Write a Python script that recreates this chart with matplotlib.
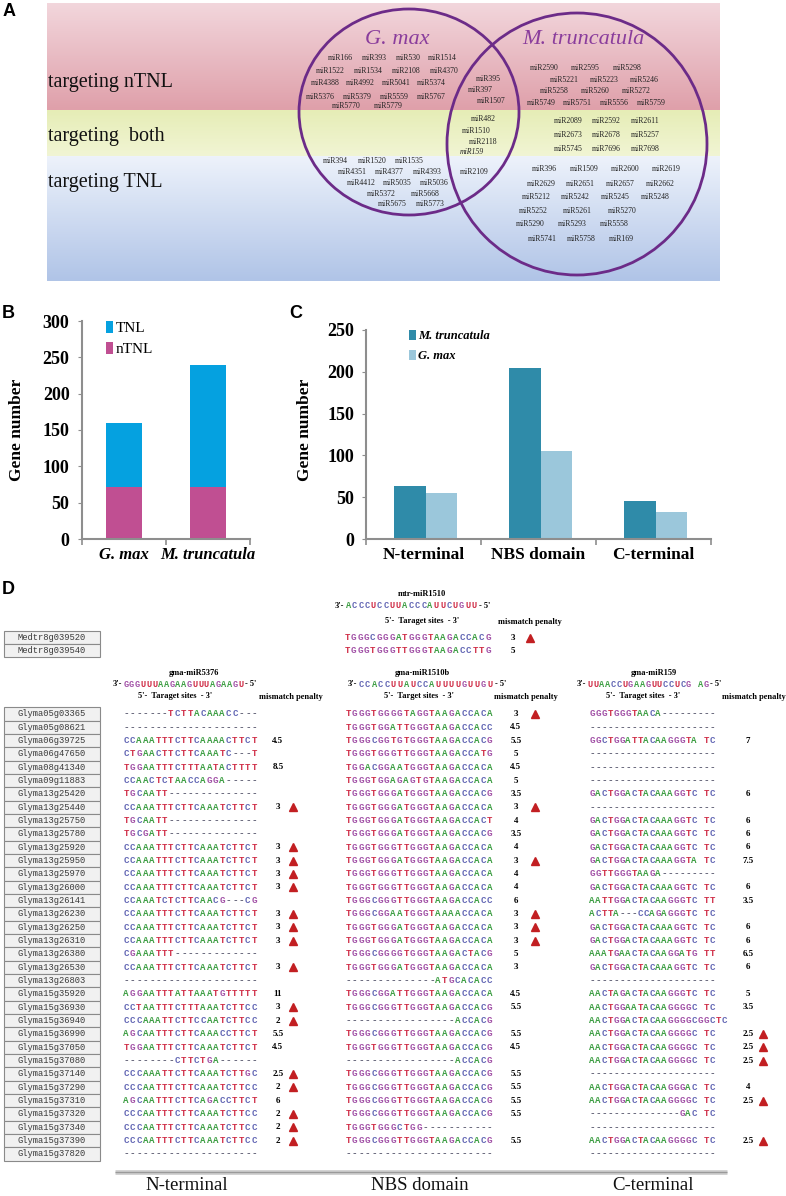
import numpy as np
import matplotlib
matplotlib.use("Agg")
import matplotlib.pyplot as plt
from matplotlib.patches import Rectangle, Ellipse

W, H = 786, 1196
SERIF = "Liberation Serif"
MONO = "Liberation Mono"
SANS = "Liberation Sans"

# ---------------------------------------------------------------
#  Panel A : miRNA families in the Venn diagram
# ---------------------------------------------------------------
band_labels = ["targeting nTNL", "targeting  both", "targeting TNL"]

gma_ntnl_rows = [["miR166", "miR393", "miR530", "miR1514"],
                 ["miR1522", "miR1534", "miR2108", "miR4370"],
                 ["miR4388", "miR4992", "miR5041", "miR5374"],
                 ["miR5376", "miR5379", "miR5559", "miR5767"],
                 ["miR5770", "miR5779"]]
gma_tnl_rows = [["miR394", "miR1520", "miR1535"],
                ["miR4351", "miR4377", "miR4393"],
                ["miR4412", "miR5035", "miR5036"],
                ["miR5372", "miR5668"],
                ["miR5675", "miR5773"]]
shared_mirs = ["miR395", "miR397", "miR1507", "miR482", "miR1510", "miR2118", "miR159", "miR2109"]
mtr_ntnl_rows = [["miR2590", "miR2595", "miR5298"],
                 ["miR5221", "miR5223", "miR5246"],
                 ["miR5258", "miR5260", "miR5272"],
                 ["miR5749", "miR5751", "miR5556", "miR5759"]]
mtr_both_rows = [["miR2089", "miR2592", "miR2611"],
                 ["miR2673", "miR2678", "miR5257"],
                 ["miR5745", "miR7696", "miR7698"]]
mtr_tnl_rows = [["miR396", "miR1509", "miR2600", "miR2619"],
                ["miR2629", "miR2651", "miR2657", "miR2662"],
                ["miR5212", "miR5242", "miR5245", "miR5248"],
                ["miR5252", "miR5261", "miR5270"],
                ["miR5290", "miR5293", "miR5558"],
                ["miR5741", "miR5758", "miR169"]]

# ---------------------------------------------------------------
#  Panel B / C : gene counts
# ---------------------------------------------------------------
species = ["G. max", "M. truncatula"]
ntnl_counts = [72, 71]
tnl_counts = [87, 169]

domains = ["N-terminal", "NBS domain", "C-terminal"]
mtr_domain_counts = [63, 205, 45]
gma_domain_counts = [55, 105, 32]

# ---------------------------------------------------------------
#  Panel D : target sites
# ---------------------------------------------------------------
mtr_mirna = ("mtr-miR1510", "ACCCUCCUUACCCAUUCUGUU")
mtr_genes = ["Medtr8g039520", "Medtr8g039540"]
mtr_sites = ["TGGGCGGGATGGGTAAGACCACG", "TGGGTGGGTTGGGTAAGACCTTG"]
mtr_penalty = ["3", "5"]
mtr_flag = [True, False]

gma_mirnas = [("gma-miR5376", "GGGUUUAAGAAGUUUAGAAGU"),
              ("gma-miR1510b", "CCACCUUAUCCAUUUUGUUGU"),
              ("gma-miR159", "UUAACCUGAAGUUCCUCG AG")]

gma_genes = ["Glyma05g03365", "Glyma05g08621", "Glyma06g39725", "Glyma06g47650",
             "Glyma08g41340", "Glyma09g11883", "Glyma13g25420", "Glyma13g25440",
             "Glyma13g25750", "Glyma13g25780", "Glyma13g25920", "Glyma13g25950",
             "Glyma13g25970", "Glyma13g26000", "Glyma13g26141", "Glyma13g26230",
             "Glyma13g26250", "Glyma13g26310", "Glyma13g26380", "Glyma13g26530",
             "Glyma13g26803", "Glyma15g35920", "Glyma15g36930", "Glyma15g36940",
             "Glyma15g36990", "Glyma15g37050", "Glyma15g37080", "Glyma15g37140",
             "Glyma15g37290", "Glyma15g37310", "Glyma15g37320", "Glyma15g37340",
             "Glyma15g37390", "Glyma15g37820"]

nterm_sites = ["-------TCTTACAAACC---", "---------------------", "CCAAATTTCTTCAAAACTTCT",
               "CTGAACTTCTTCAAATC---T", "TGGAATTTCTTTAATACTTTT", "CCAACTCTAACCAGGA-----",
               "TGCAATT--------------", "CCAAATTTCTTCAAATCTTCT", "TGCAATT--------------",
               "TGCGATT--------------", "CCAAATTTCTTCAAATCTTCT", "CCAAATTTCTTCAAATCTTCT",
               "CCAAATTTCTTCAAATCTTCT", "CCAAATTTCTTCAAATCTTCT", "CCAAATCTCTTCAACG---CG",
               "CCAAATTTCTTCAAATCTTCT", "CCAAATTTCTTCAAATCTTCT", "CCAAATTTCTTCAAATCTTCT",
               "CGAAATTT-------------", "CCAAATTTCTTCAAATCTTCT", "---------------------",
               "AGGAATTTATTAAATGTTTTT", "CCTAATTTCTTTAAATCTTCC", "CCCAAATTCTTCCAATCTTCC",
               "AGCAATTTCTTCAAACCTTCT", "TGGAATTTCTTCAAATCTTCT", "--------CTTCTGA------",
               "CCCAAATTCTTCAAATCTTGC", "CCCAATTTCTTCAAATCTTCC", "AGCAATTTCTTCAGACCTTCT",
               "CCCAATTTCTTCAAATCTTCC", "CCCAATTTCTTCAAATCTTCC", "CCCAATTTCTTCAAATCTTCC",
               "---------------------"]
nterm_penalty = ["", "", "4.5", "", "8.5", "", "", "3", "", "", "3", "3", "3", "3", "",
                 "3", "3", "3", "", "3", "", "11", "3", "2", "5.5", "4.5", "", "2.5",
                 "2", "6", "2", "2", "2", ""]
nterm_flag = [0, 0, 0, 0, 0, 0, 0, 1, 0, 0, 1, 1, 1, 1, 0, 1, 1, 1, 0, 1, 0, 0, 1, 1,
              0, 0, 0, 1, 1, 0, 1, 1, 1, 0]

nbs_sites = ["TGGGTGGGGTAGGTAAGACCACA", "TGGGTGGATTGGGTAAGACCACC", "TGGGCGGTGTGGGTAAGACCACG",
             "TGGGTGGGTTGGGTAAGACCATG", "TGGACGGAATGGGTAAGACCACA", "TGGGTGGAGAGTGTAAGACCACA",
             "TGGGTGGGATGGGTAAGACCACG", "TGGGTGGGATGGGTAAGACCACA", "TGGGTGGGATGGGTAAGACCACT",
             "TGGGTGGGATGGGTAAGACCACG", "TGGGTGGGTTGGGTAAGACCACA", "TGGGTGGGATGGGTAAGACCACA",
             "TGGGTGGGTTGGGTAAGACCACA", "TGGGTGGGTTGGGTAAGACCACA", "TGGGCGGGTTGGGTAAGACCACC",
             "TGGGCGGAATGGGTAAAACCACA", "TGGGTGGGATGGGTAAGACCACA", "TGGGTGGGATGGGTAAGACCACA",
             "TGGGCGGGGTGGGTAAGACTACG", "TGGGTGGGATGGGTAAGACCACA", "--------------ATGCACACC",
             "TGGGCGGATTGGGTAAGACCACA", "TGGGCGGGTTGGGTAAGACCACG", "-----------------ACCACG",
             "TGGGCGGGTTGGGTAAGACCACG", "TGGGTGGGTTGGGTAAGACCACG", "-----------------ACCACG",
             "TGGGCGGGTTGGGTAAGACCACG", "TGGGCGGGTTGGGTAAGACCACG", "TGGGCGGGTTGGGTAAGACCACG",
             "TGGGCGGGTTGGGTAAGACCACG", "TGGGTGGGCTGG-----------", "TGGGCGGGTTGGGTAAGACCACG",
             "-----------------------"]
nbs_penalty = ["3", "4.5", "5.5", "5", "4.5", "5", "3.5", "3", "4", "3.5", "4", "3", "4",
               "4", "6", "3", "3", "3", "5", "3", "", "4.5", "5.5", "", "5.5", "4.5", "",
               "5.5", "5.5", "5.5", "5.5", "", "5.5", ""]
nbs_flag = [1, 0, 0, 0, 0, 0, 0, 1, 0, 0, 0, 1, 0, 0, 0, 1, 1, 1, 0, 0, 0, 0, 0, 0,
            0, 0, 0, 0, 0, 0, 0, 0, 0, 0]

cterm_sites = ["GGGTGGGTAACA---------", "---------------------", "GGCTGGATTACAAGGGTA TC",
               "---------------------", "---------------------", "---------------------",
               "GACTGGACTACAAAGGTC TC", "---------------------", "GACTGGACTACAAAGGTC TC",
               "GACTGGACTACAAAGGTC TC", "GACTGGACTACAAAGGTC TC", "GACTGGACTACAAAGGTA TC",
               "GGTTGGGTAAGA---------", "GACTGGACTACAAAGGTC TC", "AATTGGACTACAAGGGTC TT",
               "ACTTA---CCAGAGGGTC TC", "GACTGGACTACAAAGGTC TC", "GACTGGACTACAAAGGTC TC",
               "AAATGAACTACAAGGATG TT", "GACTGGACTACAAAGGTC TC", "---------------------",
               "AACTAGACTACAAGGGTC TC", "AACTGGAATACAAGGGGC TC", "AACTGGACTACAAGGGGCGGCTC",
               "AACTGGACTACAAGGGGC TC", "AACTGGACTACAAGGGGC TC", "AACTGGACTACAAGGGGC TC",
               "---------------------", "AACTGGACTACAAGGGAC TC", "AACTGGACTACAAGGGGC TC",
               "---------------GAC TC", "---------------------", "AACTGGACTACAAGGGGC TC",
               "---------------------"]
cterm_penalty = ["", "", "7", "", "", "", "6", "", "6", "6", "6", "7.5", "", "6", "3.5",
                 "", "6", "6", "6.5", "6", "", "5", "3.5", "", "2.5", "2.5", "2.5", "",
                 "4", "2.5", "", "", "2.5", ""]
cterm_flag = [0] * 24 + [1, 1, 1, 0, 0, 1, 0, 0, 1, 0]

NT_COLORS = {"A": "#3f9f45", "C": "#6266b4", "G": "#a150a6", "T": "#d02f48",
             "U": "#d02f48", "-": "#5a5a70"}

fig = plt.figure(figsize=(W / 100, H / 100), dpi=100)
base = fig.add_axes([0, 0, 1, 1])
base.set_xlim(0, W)
base.set_ylim(H, 0)
base.axis("off")


def gradient(ax, x0, x1, y0, y1, c_top, c_bot):
    top = np.array(matplotlib.colors.to_rgb(c_top))
    bot = np.array(matplotlib.colors.to_rgb(c_bot))
    t = np.linspace(0, 1, 64)[:, None, None]
    img = top * (1 - t) + bot * t
    ax.imshow(img, extent=[x0, x1, y1, y0], origin="upper", aspect="auto", zorder=0)


# ---- panel A --------------------------------------------------
gradient(base, 47, 720, 3, 110, "#f2d6dc", "#dfa0aa")
gradient(base, 47, 720, 110, 156, "#e6edb6", "#f1f5d4")
gradient(base, 47, 720, 156, 281, "#edf2fb", "#b0c4e7")
base.set_xlim(0, W)
base.set_ylim(H, 0)

for lab, y in zip(band_labels, [82, 136, 182]):
    base.text(48, y, lab, fontsize=14.5, family=SERIF, va="center", ha="left", color="#111")

base.add_patch(Ellipse((409, 112), 220, 206, fill=False, ec="#6c2b88", lw=2.0, zorder=3))
base.add_patch(Ellipse((577, 144), 260, 262, fill=False, ec="#6c2b88", lw=2.0, zorder=3))
base.text(397, 40, "G. max", fontsize=16, family=SERIF, style="italic", color="#8a3d9c",
          ha="center", va="center")
base.text(583, 40, "M. truncatula", fontsize=16, family=SERIF, style="italic", color="#8a3d9c",
          ha="center", va="center")


def mir_rows(rows, layout):
    for names, (y, x_first, step) in zip(rows, layout):
        for k, name in enumerate(names):
            base.text(x_first + k * step, y, name, fontsize=5.6, family=SERIF,
                      ha="center", va="center", color="#222")


mir_rows(gma_ntnl_rows, [(58, 340, 34), (71, 330, 38), (83, 325, 35.5), (97, 320, 37), (106, 346, 42)])
mir_rows(gma_tnl_rows, [(161, 335, 37), (172, 352, 37.5), (183, 361, 36.5), (194, 381, 44), (204, 392, 38)])
mir_rows(mtr_ntnl_rows, [(68, 544, 41.5), (80, 564, 40), (91, 554, 41), (103, 541, 36.7)])
mir_rows(mtr_both_rows, [(121, 568, 38.5), (135, 568, 38.5), (149, 568, 38.5)])
mir_rows(mtr_tnl_rows, [(169, 544, 40.7), (184, 541, 39.7), (197, 536, 39.7), (211, 533, 44.5),
                        (224, 530, 42), (239, 542, 39.5)])
shared_pos = [(488, 79), (480, 90), (491, 101), (483, 119), (476, 131), (483, 142), (472, 152), (474, 172)]
for name, (x, y) in zip(shared_mirs, shared_pos):
    base.text(x, y, name, fontsize=5.6, family=SERIF, ha="center", va="center", color="#222",
              style="italic" if name == "miR159" else "normal")

# ---- panel letters --------------------------------------------
for lab, x, y in [("A", 3, 12), ("B", 2, 313), ("C", 289, 313), ("D", 2, 590)]:
    base.text(x, y, lab, fontsize=13, family=SANS, fontweight="bold", va="center", ha="left")

# ---- panels B and C -------------------------------------------
AX_GRAY = "#8e8e8e"


def style_axis(ax, ymax, step, pad):
    ax.set_facecolor("none")
    for s in ["top", "right"]:
        ax.spines[s].set_visible(False)
    for s in ["left", "bottom"]:
        ax.spines[s].set_color(AX_GRAY)
        ax.spines[s].set_linewidth(1.5)
    ax.set_ylim(0, ymax)
    ax.set_yticks(np.arange(0, ymax + 1, step))
    ax.tick_params(axis="y", length=3, color=AX_GRAY, pad=pad)
    ax.tick_params(axis="x", which="major", length=0, pad=6)
    ax.tick_params(axis="x", which="minor", length=4, color=AX_GRAY, width=1.2)
    for t in ax.get_yticklabels():
        t.set_fontfamily(SERIF)
        t.set_fontweight("bold")
        t.set_fontsize(13)


axB = fig.add_axes([82 / W, 1 - 539 / H, 168 / W, 218 / H])
xb = np.arange(len(species)) + 0.5
b_ntnl = axB.bar(xb, ntnl_counts, width=0.44, color="#c04f92", label="nTNL")
b_tnl = axB.bar(xb, tnl_counts, bottom=ntnl_counts, width=0.44, color="#05a1e0", label="TNL")
axB.set_xlim(0, len(species))
style_axis(axB, 300, 50, 6)
axB.set_xticks(xb)
axB.set_xticklabels(species, fontfamily=SERIF, fontweight="bold", style="italic", fontsize=12)
axB.set_xticks(np.arange(len(species) + 1), minor=True)
axB.set_ylabel("Gene number", fontfamily=SERIF, fontweight="bold", fontsize=12.5)
axB.yaxis.set_label_coords(-0.34, 0.5)
axB.legend([b_tnl, b_ntnl], ["TNL", "nTNL"], loc="upper left", bbox_to_anchor=(0.14, 1.0),
           frameon=False, prop={"family": SERIF, "size": 11}, handlelength=0.5, handleheight=0.8,
           handletextpad=0.15, labelspacing=0.45, borderpad=0, borderaxespad=0)

axC = fig.add_axes([366 / W, 1 - 539 / H, 345 / W, 209 / H])
xc = np.arange(len(domains)) + 0.5
bw = 0.275
c_mtr = axC.bar(xc - bw / 2 + 0.02, mtr_domain_counts, width=bw, color="#2f8ba9", label="M. truncatula")
c_gma = axC.bar(xc + bw / 2 + 0.02, gma_domain_counts, width=bw, color="#9bc7db", label="G. max")
axC.set_xlim(0, len(domains))
style_axis(axC, 250, 50, 5.5)
axC.set_xticks(xc)
axC.set_xticklabels(domains, fontfamily=SERIF, fontweight="bold", fontsize=12.5)
axC.set_xticks(np.arange(len(domains) + 1), minor=True)
axC.set_ylabel("Gene number", fontfamily=SERIF, fontweight="bold", fontsize=12.5)
axC.yaxis.set_label_coords(-0.154, 0.52)
axC.legend([c_mtr, c_gma], ["M. truncatula", "G. max"], loc="upper left", bbox_to_anchor=(0.125, 1.0),
           frameon=False, prop={"family": SERIF, "size": 9, "weight": "bold", "style": "italic"},
           handlelength=0.55, handleheight=0.9, handletextpad=0.2, labelspacing=0.6,
           borderpad=0, borderaxespad=0)

# ---- panel D --------------------------------------------------
TRI = "#c21f22"


def draw_seq(seq, x0, y, dx, size=6.6):
    for i, ch in enumerate(seq):
        if ch == " ":
            continue
        base.text(x0 + (i + 0.5) * dx, y, ch, color=NT_COLORS[ch], fontsize=size, family=MONO,
                  fontweight="bold", ha="center", va="center")


def gene_box(name, y, h=13.33):
    base.add_patch(Rectangle((4, y - h / 2), 96, h, fc="#f1f1f1", ec="#8a8a8a", lw=0.8))
    base.text(52, y, name, fontsize=6.3, family=MONO, color="#3a3a3a", ha="center", va="center")


def header(mir, seq, cx_name, y_name, x_seq, dx_seq, y_seq, target_txt, cx_target, cx_mm, y_hdr):
    base.text(cx_name, y_name, mir, fontsize=6, family=SERIF, fontweight="bold", ha="center", va="center")
    base.text(x_seq - 1, y_seq, "3'-", fontsize=6, family=SERIF, fontweight="bold", ha="right", va="center")
    draw_seq(seq, x_seq, y_seq, dx_seq, size=6.2)
    base.text(x_seq + len(seq) * dx_seq + 1.5, y_seq, "- 5'", fontsize=6, family=SERIF, fontweight="bold",
              ha="left", va="center")
    base.text(cx_target, y_hdr, target_txt, fontsize=6, family=SERIF, fontweight="bold",
              ha="center", va="center")
    base.text(cx_mm, y_hdr + 1, "mismatch penalty", fontsize=6, family=SERIF, fontweight="bold",
              ha="center", va="center")


def penalty(vals, flags, ys, x_num, x_tri):
    for v, f, y in zip(vals, flags, ys):
        if v:
            base.text(x_num, y, v, fontsize=6.5, family=SERIF, fontweight="bold", ha="center", va="center")
    fy = [y for f, y in zip(flags, ys) if f]
    base.plot([x_tri] * len(fy), fy, ls="none", marker="^", ms=5.8, color=TRI)


# M. truncatula block
header(mtr_mirna[0], mtr_mirna[1], 422, 594, 345, 6.3, 606, "5'-  Taraget sites  - 3'", 422, 530, 621)
mtr_y = [637.5, 650.8]
for g, s, y in zip(mtr_genes, mtr_sites, mtr_y):
    gene_box(g, y)
    draw_seq(s, 344, y, 6.4)
penalty(mtr_penalty, mtr_flag, mtr_y, 513, 530)

# G. max block
row_y = 714 + 13.33 * np.arange(len(gma_genes))
for g, y in zip(gma_genes, row_y):
    gene_box(g, y)

header(gma_mirnas[0][0], gma_mirnas[0][1], 194, 673, 123, 5.75, 684.5,
       "5'-  Taraget sites  - 3'", 175, 291, 696)
header(gma_mirnas[1][0], gma_mirnas[1][1], 422, 673, 358, 6.43, 684.5,
       "5'-  Target sites  - 3'", 419, 526, 696)
header(gma_mirnas[2][0], gma_mirnas[2][1], 654, 673, 587, 5.8, 684.5,
       "5'-  Taraget sites  - 3'", 643, 754, 696)

for s, y in zip(nterm_sites, row_y):
    draw_seq(s, 123, y, 6.4)
for s, y in zip(nbs_sites, row_y):
    draw_seq(s, 345, y, 6.43)
for s, y in zip(cterm_sites, row_y):
    draw_seq(s, 589, y, 6.0)
penalty(nterm_penalty, nterm_flag, row_y, 278, 293)
penalty(nbs_penalty, nbs_flag, row_y, 516, 535)
penalty(cterm_penalty, cterm_flag, row_y, 748, 763)

# bottom rule and region labels
base.plot([115, 727], [1172, 1172], color="#d0d0d0", lw=3.5, solid_capstyle="butt")
base.plot([115, 727], [1171.5, 1171.5], color="#9a9a9a", lw=1.0, solid_capstyle="butt")
for lab, x in zip(domains, [187, 420, 653]):
    base.text(x, 1186, lab, fontsize=13.5, family=SERIF, ha="center", va="center", color="#111")

fig.savefig("out.png", dpi=100)
